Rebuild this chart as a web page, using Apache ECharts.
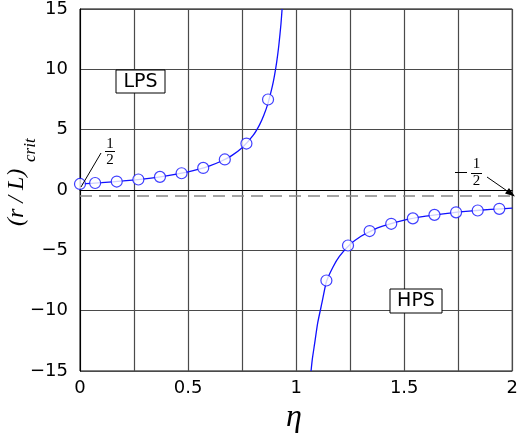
<!DOCTYPE html>
<html>
<head>
<meta charset="utf-8">
<script src="https://cdn.jsdelivr.net/npm/echarts@6/dist/echarts.min.js"></script>
<style>
html, body { margin: 0; padding: 0; background: #fff; }
#main { width: 521px; height: 436px; }
</style>
</head>
<body>
<div id="main"></div>
<script>
// curve (r/L)crit vs eta, left and right branch
var curveLeft = [
  [0, 0.5], [0.1, 0.61], [0.2, 0.75], [0.3, 0.93], [0.4, 1.17], [0.5, 1.5],
  [0.55, 1.72], [0.6, 2.0], [0.65, 2.36], [0.7, 2.83], [0.75, 3.5], [0.8, 4.5],
  [0.83, 5.38], [0.85, 6.17], [0.87, 7.2], [0.89, 8.6], [0.9, 9.5], [0.91, 10.6],
  [0.92, 12.0], [0.93, 13.8], [0.935, 15]
];
var curveRight = [
  [1.069, -15], [1.075, -14.0], [1.085, -12.8], [1.1, -11.0], [1.12, -9.3],
  [1.14, -7.6], [1.17, -6.4], [1.2, -5.5], [1.25, -4.5], [1.3, -3.83],
  [1.35, -3.36], [1.4, -3.0], [1.5, -2.5], [1.6, -2.17], [1.7, -1.93],
  [1.8, -1.75], [1.9, -1.61], [2.0, -1.5]
];
// open circle markers
var markerPts = [
  [0, 0.5], [0.07, 0.58], [0.17, 0.7], [0.27, 0.87], [0.37, 1.09], [0.47, 1.39],
  [0.57, 1.83], [0.67, 2.53], [0.77, 3.85], [0.87, 7.5],
  [1.14, -7.5], [1.24, -4.6], [1.34, -3.4], [1.44, -2.8], [1.54, -2.35],
  [1.64, -2.06], [1.74, -1.85], [1.84, -1.7], [1.94, -1.56]
];
var asymptote = -0.5;
var xTickLabels = ['0', '0.5', '1', '1.5', '2'];
var yTickLabels = {'15': '15', '10': '10', '5': '5', '0': '0', '-5': '\u22125', '-10': '\u221210', '-15': '\u221215'};

var chart = echarts.init(document.getElementById('main'));
var blue = '#1010ff';
var font = 'DejaVu Sans';
var serif = '"Liberation Serif"';

chart.setOption({
  animation: false,
  grid: { left: 80, right: 6, top: 8, bottom: 65, show: true, borderColor: '#000', borderWidth: 1 },
  xAxis: {
    type: 'value', min: 0, max: 2, interval: 0.25,
    axisLine: { lineStyle: { color: '#000' } },
    axisTick: { show: false },
    splitLine: { show: true, lineStyle: { color: '#4a4a4a', width: 1.2 } },
    axisLabel: {
      color: '#000', fontFamily: font, fontSize: 18, margin: 8,
      formatter: function (v) {
        var k = Math.round(v * 4);
        return k % 2 === 0 ? xTickLabels[k / 2] : '';
      }
    }
  },
  yAxis: {
    type: 'value', min: -15, max: 15, interval: 5,
    axisLine: { lineStyle: { color: '#000' } },
    axisTick: { show: false },
    splitLine: { show: true, lineStyle: { color: '#4a4a4a', width: 1.2 } },
    axisLabel: {
      color: '#000', fontFamily: font, fontSize: 18, margin: 12,
      formatter: function (v) { return yTickLabels[String(v)]; }
    }
  },
  series: [
    {
      type: 'line', data: [[0, asymptote], [2, asymptote]], symbol: 'none',
      lineStyle: { color: '#888', width: 1.5, type: [12, 7] }, z: 1
    },
    {
      type: 'line', data: curveLeft, symbol: 'none', smooth: 0.2,
      lineStyle: { color: blue, width: 1.3 }, z: 3
    },
    {
      type: 'line', data: curveRight, symbol: 'none', smooth: 0.2,
      lineStyle: { color: blue, width: 1.3 }, z: 3
    },
    {
      type: 'scatter', data: markerPts, symbol: 'circle', symbolSize: 11,
      itemStyle: { color: '#fff', borderColor: blue, borderWidth: 1.2 }, z: 4
    }
  ],
  graphic: [
    // axis titles
    { type: 'text', x: 294, y: 418, z: 10,
      style: { text: 'η', font: 'italic 32px ' + serif, fill: '#000', textAlign: 'center', textVerticalAlign: 'middle' } },
    { type: 'group', x: 29, y: 226, rotation: Math.PI / 2, z: 10, children: [
      { type: 'text', x: 0, y: 0, style: { text: '(r / L)', font: 'italic 24px ' + serif, fill: '#000', textVerticalAlign: 'bottom' } },
      { type: 'text', x: 64, y: 10, style: { text: 'crit', font: 'italic 17px ' + serif, fill: '#000', textVerticalAlign: 'bottom' } }
    ] },
    // LPS / HPS boxes
    { type: 'rect', shape: { x: 116, y: 70, width: 49, height: 23 }, style: { fill: '#fff', stroke: '#000', lineWidth: 1 }, z: 10 },
    { type: 'text', x: 140.5, y: 82, style: { text: 'LPS', font: '19px "DejaVu Sans"', fill: '#000', textAlign: 'center', textVerticalAlign: 'middle' }, z: 11 },
    { type: 'rect', shape: { x: 390, y: 289, width: 52, height: 24 }, style: { fill: '#fff', stroke: '#000', lineWidth: 1 }, z: 10 },
    { type: 'text', x: 416, y: 301.5, style: { text: 'HPS', font: '19px "DejaVu Sans"', fill: '#000', textAlign: 'center', textVerticalAlign: 'middle' }, z: 11 },
    // 1/2 annotation
    { type: 'line', shape: { x1: 81, y1: 187, x2: 101, y2: 153 }, style: { stroke: '#000', lineWidth: 1 }, z: 10 },
    { type: 'text', x: 110, y: 144, style: { text: '1', font: '15px ' + serif, fill: '#000', textAlign: 'center', textVerticalAlign: 'middle' }, z: 10 },
    { type: 'line', shape: { x1: 105, y1: 151.5, x2: 115, y2: 151.5 }, style: { stroke: '#000', lineWidth: 1 }, z: 10 },
    { type: 'text', x: 110, y: 160, style: { text: '2', font: '15px ' + serif, fill: '#000', textAlign: 'center', textVerticalAlign: 'middle' }, z: 10 },
    // -1/2 annotation
    { type: 'line', shape: { x1: 455, y1: 172.5, x2: 467, y2: 172.5 }, style: { stroke: '#000', lineWidth: 1 }, z: 10 },
    { type: 'text', x: 476.5, y: 164, style: { text: '1', font: '15px ' + serif, fill: '#000', textAlign: 'center', textVerticalAlign: 'middle' }, z: 10 },
    { type: 'line', shape: { x1: 471, y1: 173.5, x2: 482, y2: 173.5 }, style: { stroke: '#000', lineWidth: 1 }, z: 10 },
    { type: 'text', x: 476.5, y: 181, style: { text: '2', font: '15px ' + serif, fill: '#000', textAlign: 'center', textVerticalAlign: 'middle' }, z: 10 },
    { type: 'line', shape: { x1: 487, y1: 177, x2: 513, y2: 195 }, style: { stroke: '#000', lineWidth: 1 }, z: 10 },
    { type: 'polygon', shape: { points: [[515, 196.5], [505, 193.5], [509, 188]] }, style: { fill: '#000' }, z: 10 }
  ]
});
</script>
</body>
</html>
